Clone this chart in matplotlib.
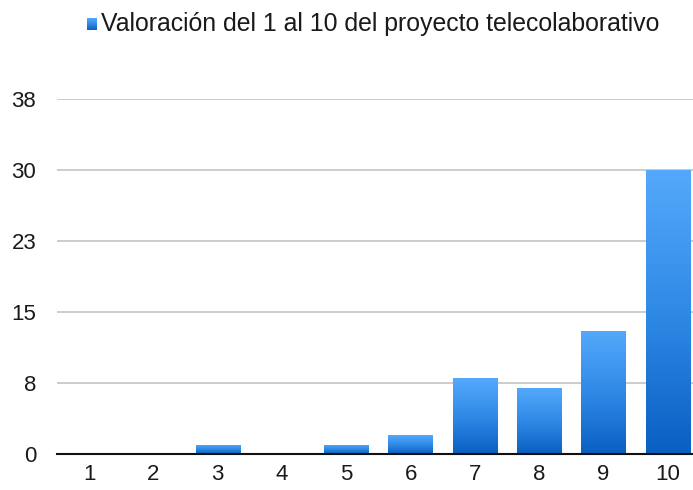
import matplotlib
matplotlib.use("Agg")
import matplotlib.pyplot as plt
import numpy as np
from matplotlib.colors import LinearSegmentedColormap
from matplotlib.patches import Rectangle

categories = ["1", "2", "3", "4", "5", "6", "7", "8", "9", "10"]
values = [0, 0, 1, 0, 1, 2, 8, 7, 13, 30]
ytick_values = [0, 7.5, 15, 22.5, 30, 37.5]
ytick_labels = ["0", "8", "15", "23", "30", "38"]
series_name = "Valoración del 1 al 10 del proyecto telecolaborativo"

plt.rcParams['font.family'] = ['Liberation Sans', 'DejaVu Sans']

W, H = 693, 490
fig = plt.figure(figsize=(W / 100, H / 100), dpi=100)
left, right, top, bottom = 57, 693, 99, 454
ax = fig.add_axes([left / W, 1 - bottom / H, (right - left) / W, (bottom - top) / H])

cmap = LinearSegmentedColormap.from_list("blu", ["#0a5fc2", "#2f8ae6", "#55a9fb"])
grad = np.linspace(0, 1, 256).reshape(-1, 1)

x = np.arange(1, len(categories) + 1)
bw = 0.69
for xi, v in zip(x, values):
    if v <= 0:
        continue
    rect = Rectangle((xi - bw / 2, 0), bw, v, facecolor="none", edgecolor="none")
    ax.add_patch(rect)
    im = ax.imshow(grad, cmap=cmap, aspect="auto", origin="lower",
                   extent=(xi - bw / 2, xi + bw / 2, 0, v), zorder=3, interpolation="bilinear")
    im.set_clip_path(rect)

ax.set_xlim(0.5, 0.5 + (right - left) / 64.3)
ax.set_ylim(0, 37.5)
ax.set_xticks(x)
ax.set_xticklabels(categories, fontsize=16, color="#1a1a1a")
ax.set_yticks(ytick_values)
ax.set_yticklabels(ytick_labels, fontsize=16, color="#1a1a1a")
ax.tick_params(length=0)
ax.tick_params(axis="y", pad=15)
ax.tick_params(axis="x", pad=7)
for s in ["left", "right", "top"]:
    ax.spines[s].set_visible(False)
ax.spines["bottom"].set_color("#111111")
ax.spines["bottom"].set_linewidth(1.5)
ax.spines["bottom"].set_zorder(5)
ax.grid(axis="y", color="#c4c4c4", linewidth=1.2)
ax.set_axisbelow(True)

# legend
ly = 1 - 24 / H
sq = fig.add_axes([87 / W, 1 - 30 / H, 10 / W, 12 / H])
sq.imshow(grad, cmap=cmap, aspect="auto", origin="lower")
sq.axis("off")
fig.text(101 / W, ly, series_name, fontsize=17.9, va="center", ha="left", color="#1a1a1a")

fig.savefig("out.png", dpi=100)
